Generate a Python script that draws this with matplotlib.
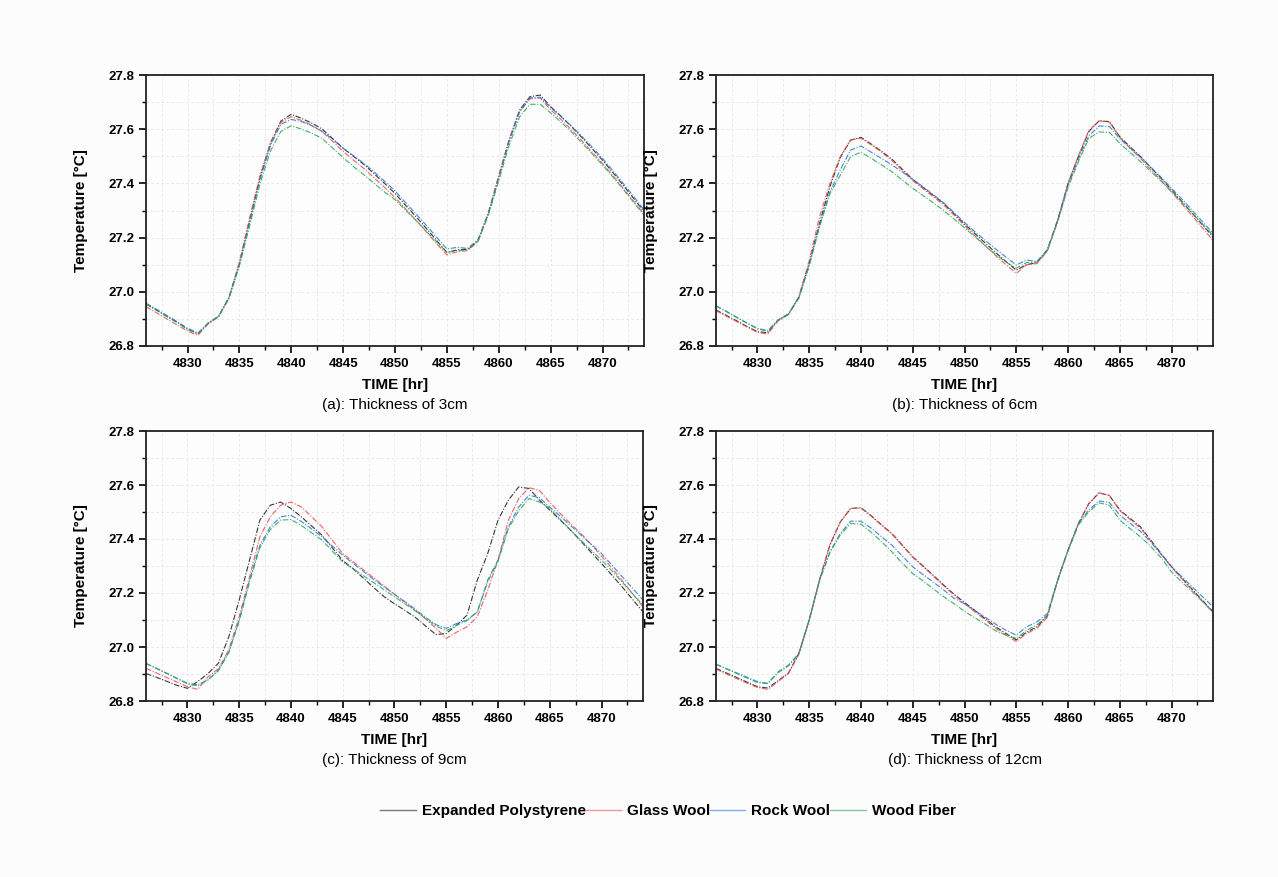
import matplotlib
matplotlib.use('Agg')
import matplotlib.pyplot as plt
from matplotlib.lines import Line2D
from matplotlib.ticker import MultipleLocator

plt.rcParams['font.family'] = ['Liberation Sans', 'DejaVu Sans']

# hourly time stamps
hours = list(range(4826, 4875))

materials = ['Expanded Polystyrene', 'Glass Wool', 'Rock Wool', 'Wood Fiber']
captions = ['(a): Thickness of 3cm', '(b): Thickness of 6cm',
            '(c): Thickness of 9cm', '(d): Thickness of 12cm']

# ---- (a) 3 cm ----
eps_3 = [26.955, 26.933, 26.910, 26.888, 26.862, 26.845, 26.885, 26.910, 26.980, 27.105,
         27.265, 27.425, 27.550, 27.630, 27.655, 27.640, 27.622, 27.600, 27.565, 27.530,
         27.500, 27.470, 27.435, 27.400, 27.363, 27.320, 27.278, 27.235, 27.190, 27.145,
         27.155, 27.157, 27.190, 27.290, 27.425, 27.560, 27.670, 27.720, 27.726, 27.683,
         27.648, 27.610, 27.570, 27.528, 27.486, 27.440, 27.393, 27.345, 27.296]
glass_3 = [26.945, 26.923, 26.900, 26.878, 26.855, 26.839, 26.882, 26.908, 26.978, 27.110,
           27.275, 27.430, 27.548, 27.625, 27.646, 27.632, 27.614, 27.590, 27.555, 27.518,
           27.486, 27.455, 27.420, 27.385, 27.348, 27.307, 27.265, 27.222, 27.178, 27.136,
           27.148, 27.152, 27.185, 27.292, 27.430, 27.562, 27.665, 27.712, 27.715, 27.672,
           27.636, 27.598, 27.558, 27.515, 27.474, 27.428, 27.382, 27.334, 27.287]
rock_3 = [26.958, 26.936, 26.913, 26.890, 26.866, 26.848, 26.884, 26.910, 26.978, 27.100,
          27.258, 27.415, 27.540, 27.618, 27.636, 27.628, 27.612, 27.592, 27.562, 27.530,
          27.502, 27.474, 27.442, 27.408, 27.372, 27.330, 27.288, 27.246, 27.202, 27.158,
          27.164, 27.160, 27.192, 27.288, 27.420, 27.555, 27.662, 27.716, 27.718, 27.680,
          27.646, 27.612, 27.574, 27.534, 27.492, 27.447, 27.400, 27.352, 27.302]
wood_3 = [26.955, 26.932, 26.909, 26.886, 26.862, 26.845, 26.883, 26.909, 26.975, 27.095,
          27.245, 27.400, 27.520, 27.592, 27.613, 27.600, 27.585, 27.565, 27.530, 27.495,
          27.462, 27.432, 27.400, 27.368, 27.340, 27.302, 27.264, 27.225, 27.185, 27.145,
          27.152, 27.155, 27.186, 27.282, 27.410, 27.540, 27.645, 27.692, 27.692, 27.660,
          27.626, 27.590, 27.550, 27.510, 27.468, 27.424, 27.378, 27.330, 27.283]

# ---- (b) 6 cm ----
eps_6 = [26.933, 26.913, 26.893, 26.872, 26.853, 26.849, 26.896, 26.918, 26.980, 27.105,
         27.253, 27.388, 27.495, 27.560, 27.570, 27.545, 27.518, 27.489, 27.452, 27.415,
         27.385, 27.355, 27.326, 27.288, 27.250, 27.215, 27.180, 27.145, 27.112, 27.080,
         27.100, 27.108, 27.154, 27.265, 27.400, 27.499, 27.591, 27.631, 27.628, 27.572,
         27.535, 27.499, 27.458, 27.418, 27.376, 27.333, 27.290, 27.246, 27.203]
glass_6 = [26.930, 26.910, 26.890, 26.870, 26.850, 26.844, 26.893, 26.916, 26.982, 27.115,
           27.277, 27.400, 27.499, 27.560, 27.567, 27.542, 27.515, 27.484, 27.448, 27.410,
           27.380, 27.350, 27.320, 27.282, 27.244, 27.207, 27.170, 27.134, 27.100, 27.068,
           27.100, 27.104, 27.150, 27.265, 27.400, 27.502, 27.595, 27.631, 27.626, 27.570,
           27.530, 27.492, 27.450, 27.410, 27.368, 27.324, 27.280, 27.235, 27.190]
rock_6 = [26.948, 26.928, 26.906, 26.885, 26.865, 26.857, 26.896, 26.918, 26.978, 27.098,
          27.245, 27.368, 27.450, 27.523, 27.538, 27.515, 27.492, 27.468, 27.442, 27.415,
          27.387, 27.358, 27.328, 27.292, 27.256, 27.222, 27.190, 27.158, 27.128, 27.099,
          27.117, 27.112, 27.156, 27.262, 27.392, 27.490, 27.575, 27.612, 27.610, 27.565,
          27.530, 27.497, 27.460, 27.422, 27.382, 27.342, 27.300, 27.258, 27.216]
wood_6 = [26.948, 26.927, 26.905, 26.884, 26.863, 26.855, 26.894, 26.916, 26.976, 27.095,
          27.240, 27.362, 27.430, 27.499, 27.515, 27.492, 27.468, 27.443, 27.412, 27.382,
          27.355, 27.328, 27.300, 27.268, 27.236, 27.203, 27.170, 27.138, 27.110, 27.087,
          27.108, 27.110, 27.152, 27.258, 27.385, 27.480, 27.566, 27.590, 27.588, 27.548,
          27.514, 27.480, 27.444, 27.408, 27.370, 27.330, 27.290, 27.250, 27.208]

# ---- (c) 9 cm ----
eps_9 = [26.902, 26.888, 26.873, 26.858, 26.847, 26.872, 26.902, 26.940, 27.038, 27.174,
         27.322, 27.470, 27.525, 27.537, 27.513, 27.482, 27.448, 27.414, 27.367, 27.320,
         27.290, 27.255, 27.220, 27.186, 27.160, 27.136, 27.110, 27.078, 27.046, 27.050,
         27.081, 27.118, 27.248, 27.346, 27.470, 27.544, 27.593, 27.587, 27.544, 27.507,
         27.470, 27.433, 27.392, 27.350, 27.309, 27.266, 27.222, 27.176, 27.130]
glass_9 = [26.921, 26.904, 26.887, 26.870, 26.853, 26.843, 26.890, 26.920, 26.990, 27.112,
           27.260, 27.408, 27.482, 27.525, 27.537, 27.519, 27.482, 27.445, 27.395, 27.346,
           27.316, 27.286, 27.256, 27.226, 27.196, 27.166, 27.136, 27.104, 27.070, 27.032,
           27.055, 27.075, 27.112, 27.210, 27.322, 27.470, 27.550, 27.590, 27.580, 27.535,
           27.495, 27.457, 27.420, 27.380, 27.336, 27.292, 27.245, 27.197, 27.149]
rock_9 = [26.939, 26.921, 26.903, 26.884, 26.865, 26.860, 26.878, 26.915, 26.982, 27.100,
          27.248, 27.377, 27.445, 27.482, 27.488, 27.465, 27.437, 27.408, 27.374, 27.340,
          27.310, 27.280, 27.250, 27.222, 27.195, 27.168, 27.140, 27.110, 27.083, 27.069,
          27.087, 27.100, 27.130, 27.248, 27.322, 27.445, 27.519, 27.562, 27.553, 27.518,
          27.485, 27.450, 27.415, 27.380, 27.346, 27.303, 27.260, 27.217, 27.174]
wood_9 = [26.939, 26.921, 26.902, 26.883, 26.864, 26.855, 26.880, 26.912, 26.980, 27.095,
          27.240, 27.368, 27.435, 27.470, 27.472, 27.450, 27.423, 27.396, 27.355, 27.315,
          27.290, 27.264, 27.238, 27.212, 27.186, 27.160, 27.134, 27.106, 27.078, 27.060,
          27.080, 27.098, 27.130, 27.240, 27.318, 27.438, 27.505, 27.550, 27.537, 27.513,
          27.473, 27.433, 27.395, 27.358, 27.322, 27.282, 27.240, 27.197, 27.155]

# ---- (d) 12 cm ----
eps_12 = [26.921, 26.904, 26.887, 26.870, 26.853, 26.848, 26.875, 26.904, 26.976, 27.100,
          27.248, 27.377, 27.463, 27.513, 27.516, 27.486, 27.452, 27.420, 27.377, 27.334,
          27.300, 27.265, 27.229, 27.195, 27.165, 27.135, 27.105, 27.075, 27.050, 27.026,
          27.055, 27.075, 27.115, 27.248, 27.359, 27.457, 27.531, 27.571, 27.561, 27.507,
          27.476, 27.445, 27.395, 27.346, 27.297, 27.255, 27.213, 27.172, 27.130]
glass_12 = [26.918, 26.900, 26.883, 26.866, 26.850, 26.843, 26.872, 26.902, 26.972, 27.100,
            27.250, 27.380, 27.463, 27.513, 27.514, 27.484, 27.450, 27.418, 27.375, 27.332,
            27.298, 27.262, 27.226, 27.192, 27.160, 27.130, 27.100, 27.070, 27.044, 27.020,
            27.050, 27.069, 27.110, 27.248, 27.359, 27.457, 27.531, 27.571, 27.561, 27.505,
            27.472, 27.440, 27.392, 27.343, 27.295, 27.252, 27.210, 27.168, 27.128]
rock_12 = [26.936, 26.920, 26.904, 26.888, 26.872, 26.865, 26.908, 26.933, 26.976, 27.100,
           27.248, 27.352, 27.420, 27.466, 27.466, 27.440, 27.408, 27.377, 27.337, 27.297,
           27.268, 27.240, 27.211, 27.180, 27.160, 27.135, 27.110, 27.085, 27.062, 27.044,
           27.075, 27.093, 27.124, 27.248, 27.359, 27.457, 27.507, 27.541, 27.535, 27.488,
           27.458, 27.428, 27.388, 27.343, 27.297, 27.260, 27.222, 27.186, 27.149]
wood_12 = [26.936, 26.919, 26.902, 26.885, 26.868, 26.865, 26.905, 26.930, 26.974, 27.098,
           27.245, 27.350, 27.415, 27.457, 27.455, 27.425, 27.390, 27.352, 27.310, 27.272,
           27.245, 27.215, 27.186, 27.160, 27.132, 27.108, 27.085, 27.060, 27.044, 27.032,
           27.062, 27.082, 27.118, 27.245, 27.355, 27.452, 27.500, 27.534, 27.525, 27.470,
           27.438, 27.408, 27.372, 27.330, 27.278, 27.240, 27.205, 27.168, 27.130]

panels = [
    (eps_3, glass_3, rock_3, wood_3),
    (eps_6, glass_6, rock_6, wood_6),
    (eps_9, glass_9, rock_9, wood_9),
    (eps_12, glass_12, rock_12, wood_12),
]

colors = ['#222222', '#f05050', '#2f78d6', '#2ea85a']
dash = (0, (5, 1.5, 1, 1.5))

fig = plt.figure(figsize=(12.78, 8.77), dpi=100)
fig.patch.set_facecolor('#fcfcfc')

W, H = 1278, 877
# axes boxes in pixels: left, top, right, bottom
boxes = [(146, 75, 644, 346), (716, 75, 1213, 346),
         (146, 431, 643, 701), (716, 431, 1213, 701)]

for box, series, caption in zip(boxes, panels, captions):
    l, t, r, b = box
    ax = fig.add_axes([l / W, (H - b) / H, (r - l) / W, (b - t) / H])
    ax.set_facecolor('#fdfdfd')
    for vals, c in zip(series, colors):
        ax.plot(hours, vals, color=c, lw=0.8, ls=dash, alpha=0.9)
    ax.set_xlim(4826, 4874)
    ax.set_ylim(26.8, 27.8)
    ax.xaxis.set_major_locator(MultipleLocator(5))
    ax.xaxis.set_minor_locator(MultipleLocator(2.5))
    ax.yaxis.set_major_locator(MultipleLocator(0.2))
    ax.yaxis.set_minor_locator(MultipleLocator(0.1))
    ax.yaxis.set_major_formatter(plt.FormatStrFormatter('%.1f'))
    ax.tick_params(which='major', direction='out', length=5, width=1.2,
                   labelsize=9.5, top=False, right=False)
    ax.tick_params(which='minor', direction='out', length=3, width=1,
                   top=False, right=False)
    for lab in ax.get_xticklabels() + ax.get_yticklabels():
        lab.set_fontweight('bold')
    ax.grid(True, which='both', color='#e4e4e4', lw=0.6, ls=(0, (3, 3)))
    for sp in ax.spines.values():
        sp.set_linewidth(1.3)
        sp.set_color('#222222')
    ax.set_xlabel('TIME [hr]', fontsize=11, fontweight='bold')
    ax.xaxis.set_label_coords(0.5, -0.118)
    ax.set_ylabel('Temperature [°C]', fontsize=11, fontweight='bold')
    ax.yaxis.set_label_coords(-0.116, 0.5)
    ax.text(0.5, -0.218, caption, transform=ax.transAxes, ha='center',
            va='center', fontsize=11)

handles = [Line2D([], [], color=c, lw=1.0, alpha=0.6) for c in colors]
fig.legend(handles, materials, loc='center', bbox_to_anchor=(668 / W, (H - 811) / H),
           ncol=4, frameon=False, handlelength=2.3, handletextpad=0.4,
           columnspacing=0.0, prop={'weight': 'bold', 'size': 11})

fig.savefig('out.png', dpi=100, facecolor=fig.get_facecolor())
